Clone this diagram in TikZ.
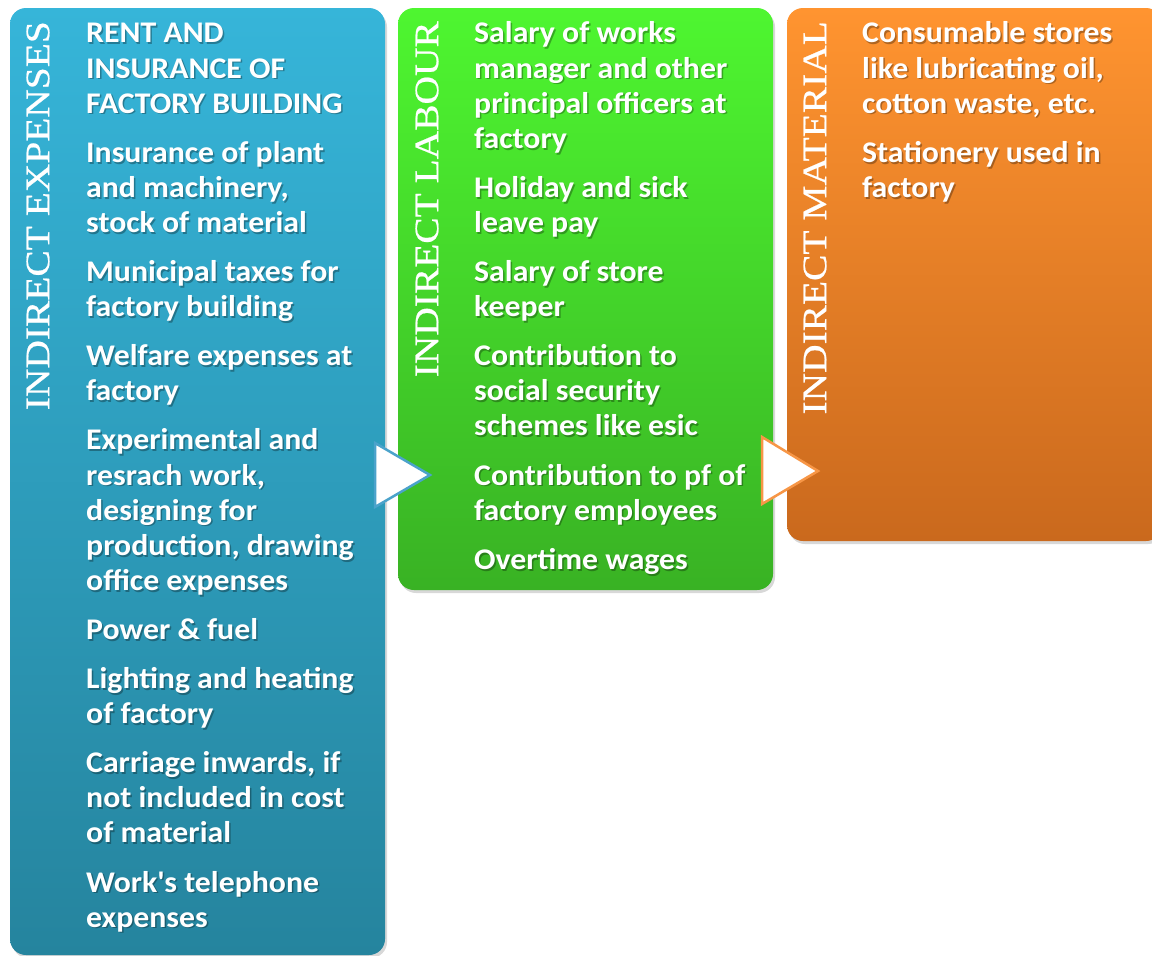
\documentclass[tikz,border=0pt]{standalone}
\usepackage{fontspec}
\newfontfamily\itemfont{Carlito}[FakeStretch=1.06]
\newfontfamily\titlefont{Liberation Serif}[FakeStretch=1.15,FakeBold=0.6]
\usetikzlibrary{shadows}
\definecolor{blueTop}{HTML}{36B5D9}
\definecolor{blueBot}{HTML}{25849E}
\definecolor{greenTop}{HTML}{4EF630}
\definecolor{greenBot}{HTML}{39B224}
\definecolor{orangeTop}{HTML}{FF9430}
\definecolor{orangeBot}{HTML}{CA691D}
\definecolor{blueEdge}{HTML}{4BA3CB}
\definecolor{orangeEdge}{HTML}{F79646}
\begin{document}
\begin{tikzpicture}[x=1pt,y=-1pt,
  panel/.style={rounded corners=16pt, drop shadow={shadow xshift=2pt,shadow yshift=-3pt,opacity=0.3}},
  items/.style={anchor=north west, inner sep=0pt, align=left, text=white,
    font=\itemfont\bfseries\fontsize{30}{35.1}\selectfont},
  itemshadow/.style={items, text=black, opacity=0.3},
  paneltitle/.style={rotate=90, anchor=east, inner sep=0pt, text=white,
    font=\titlefont\fontsize{34.3}{40}\selectfont},
  chevron/.style={fill=white, line width=2.5pt, line join=miter}]
\useasboundingbox (0,0) rectangle (1152,956);
\fill[white] (0,0) rectangle (1152,956);
% panels
\path[panel, top color=blueTop, bottom color=blueBot] (10,8) rectangle (385,955);
\path[panel, top color=greenTop, bottom color=greenBot] (398,8) rectangle (773,590);
\path[panel, top color=orangeTop, bottom color=orangeBot] (787,8) rectangle (1162,541);
% titles
\node[paneltitle] (t1) at (38,21) {INDIRECT EXPENSES};
\node[paneltitle] (t2) at (427,21) {INDIRECT LABOUR};
\node[paneltitle] (t3) at (815,21) {INDIRECT MATERIAL};
% item texts
\def\blueitems{\rule{0pt}{26pt}RENT AND\\INSURANCE OF\\FACTORY BUILDING\\[14pt]
Insurance of plant\\and machinery,\\stock of material\\[14pt]
Municipal taxes for\\factory building\\[14pt]
Welfare expenses at\\factory\\[14pt]
Experimental and\\resrach work,\\designing for\\production, drawing\\office expenses\\[14pt]
Power \& fuel\\[14pt]
Lighting and heating\\of factory\\[14pt]
Carriage inwards, if\\not included in cost\\of material\\[14pt]
Work\textquotesingle s telephone\\expenses}
\def\greenitems{\rule{0pt}{26pt}Salary of works\\manager and other\\principal officers at\\factory\\[14pt]
Holiday and sick\\leave pay\\[14pt]
Salary of store\\keeper\\[14pt]
Contribution to\\social security\\schemes like esic\\[14pt]
Contribution to pf of\\factory employees\\[14pt]
Overtime wages}
\def\orangeitems{\rule{0pt}{26pt}Consumable stores\\like lubricating oil,\\cotton waste, etc.\\[14pt]
Stationery used in\\factory}
\node[itemshadow] (s1) at (87.5,18.5) {\blueitems};
\node[itemshadow] (s2) at (475.5,18.5) {\greenitems};
\node[itemshadow] (s3) at (863.5,18.5) {\orangeitems};
\node[items] (i1) at (86,16.7) {\blueitems};
\node[items] (i2) at (474,16.7) {\greenitems};
\node[items] (i3) at (862,16.7) {\orangeitems};
% chevrons
\draw[chevron, draw=blueEdge] (375,443) -- (430,475) -- (375,507) -- cycle;
\draw[chevron, draw=orangeEdge] (762,437) -- (818,471) -- (762,504) -- cycle;
\end{tikzpicture}
\end{document}
